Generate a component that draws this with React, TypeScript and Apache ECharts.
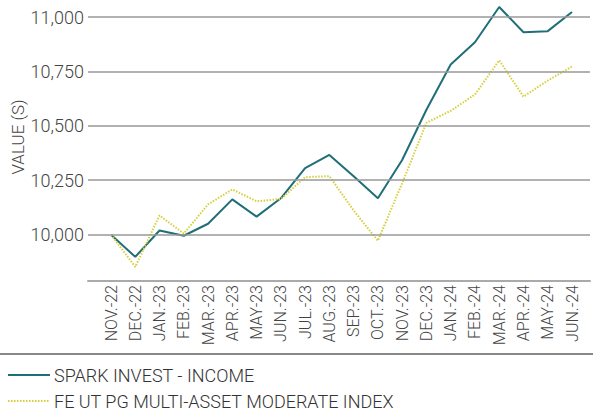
import React, { useEffect, useRef } from "react";
import * as echarts from "echarts";

const categories = [
  "NOV.-22", "DEC.-22", "JAN.-23", "FEB.-23", "MAR.-23", "APR.-23", "MAY-23", "JUN.-23",
  "JUL.-23", "AUG.-23", "SEP.-23", "OCT.-23", "NOV.-23", "DEC.-23", "JAN.-24", "FEB.-24",
  "MAR.-24", "APR.-24", "MAY-24", "JUN.-24",
];
const sparkIncome = [
  10000, 9898, 10019, 9995, 10050, 10162, 10083, 10167, 10306, 10366, 10268, 10167,
  10343, 10574, 10782, 10884, 11046, 10930, 10935, 11023,
];
const feIndex = [
  10000, 9852, 10088, 10005, 10139, 10208, 10153, 10164, 10264, 10269, 10111, 9972,
  10236, 10514, 10569, 10644, 10801, 10634, 10708, 10773,
];
const yTicks = [10000, 10250, 10500, 10750, 11000];
const seriesNames = ["SPARK INVEST - INCOME", "FE UT PG MULTI-ASSET MODERATE INDEX"];
const seriesColors = ["#1f6e78", "#d6cf3a"];

const FONT = "Roboto, 'Liberation Sans Narrow', sans-serif";
const TEXT = "#444444";
const Y_MIN = 9787;
const Y_MAX = 11000;

export default function App() {
  const ref = useRef<HTMLDivElement>(null);
  useEffect(() => {
    if (!ref.current) return;
    const chart = echarts.init(ref.current, undefined, { renderer: "svg" });
    chart.setOption({
      animation: false,
      textStyle: { fontFamily: FONT, fontWeight: 300 },
      grid: [
        { left: 88, right: 3, top: 17, bottom: 133, containLabel: false },
        { left: 111, right: 21, top: 17, bottom: 133, containLabel: false },
      ],
      xAxis: [
        {
          gridIndex: 0, type: "value", min: 0, max: 1,
          axisLine: { show: true, lineStyle: { color: "#aaaaaa", width: 2 } },
          axisTick: { show: false }, axisLabel: { show: false }, splitLine: { show: false },
        },
        {
          gridIndex: 1, type: "category", data: categories, boundaryGap: false,
          axisLine: { show: false }, axisTick: { show: false },
          axisLabel: {
            rotate: 90, interval: 0, color: TEXT, fontSize: 16, fontFamily: FONT, fontWeight: 300, margin: 4,
          },
        },
      ],
      yAxis: [
        {
          gridIndex: 0, type: "value", min: Y_MIN, max: Y_MAX,
          axisLine: { show: false },
          axisTick: { show: false, customValues: yTicks },
          axisLabel: {
            customValues: yTicks, color: TEXT, fontSize: 18, fontFamily: FONT, fontWeight: 300, margin: 4,
            formatter: (v: number) => v.toLocaleString("en-US"),
          },
          splitLine: { show: false },
        },
        {
          gridIndex: 1, type: "value", min: Y_MIN, max: Y_MAX, show: false,
          splitLine: { show: false },
        },
      ],
      graphic: [
        {
          type: "text", x: 18, y: 137, rotation: Math.PI / 2,
          style: {
            text: "VALUE (S)", fill: TEXT, fontSize: 17, fontFamily: FONT, fontWeight: 300,
            align: "center", verticalAlign: "middle",
          },
        },
        { type: "line", shape: { x1: 0, y1: 354, x2: 593, y2: 354 }, style: { stroke: "#888888", lineWidth: 2 } },
        { type: "line", shape: { x1: 8, y1: 375, x2: 50, y2: 375 }, style: { stroke: seriesColors[0], lineWidth: 2 } },
        {
          type: "text", x: 54, y: 375,
          style: { text: seriesNames[0], fill: "#333333", fontSize: 18, fontFamily: FONT, fontWeight: 300, verticalAlign: "middle" },
        },
        {
          type: "line", shape: { x1: 8, y1: 401, x2: 50, y2: 401 },
          style: { stroke: seriesColors[1], lineWidth: 2, lineDash: [1.5, 1.5] },
        },
        {
          type: "text", x: 54, y: 401,
          style: { text: seriesNames[1], fill: "#333333", fontSize: 18, fontFamily: FONT, fontWeight: 300, verticalAlign: "middle" },
        },
      ],
      series: [
        {
          name: "gridlines",
          type: "line", xAxisIndex: 0, yAxisIndex: 0, data: [], silent: true,
          markLine: {
            silent: true, symbol: "none", label: { show: false },
            lineStyle: { color: "#999999", type: "solid", width: 1.5 },
            data: yTicks.map((v) => ({ yAxis: v })),
          },
        },
        {
          name: seriesNames[0], type: "line", xAxisIndex: 1, yAxisIndex: 1,
          data: sparkIncome, symbol: "none", showSymbol: false, clip: false,
          lineStyle: { color: seriesColors[0], width: 2 }, itemStyle: { color: seriesColors[0] },
        },
        {
          name: seriesNames[1], type: "line", xAxisIndex: 1, yAxisIndex: 1,
          data: feIndex, symbol: "none", showSymbol: false, clip: false,
          lineStyle: { color: seriesColors[1], width: 2, type: [1.5, 1.5] }, itemStyle: { color: seriesColors[1] },
        },
      ],
    });
    return () => chart.dispose();
  }, []);
  return (
    <div
      ref={ref}
      style={{ position: "absolute", left: 0, top: 0, width: 593, height: 414 }}
    />
  );
}
